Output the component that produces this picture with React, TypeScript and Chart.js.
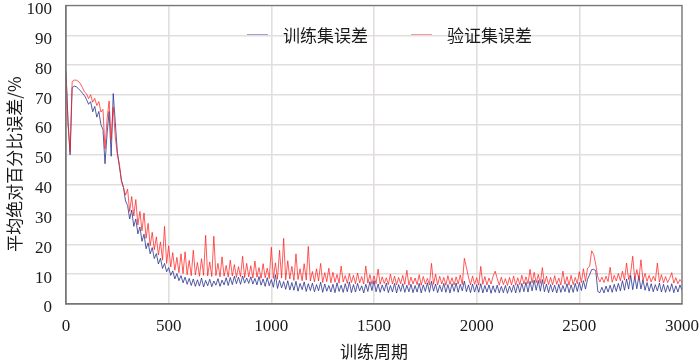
import React, { useEffect, useRef } from "react";
import { Chart, registerables } from "chart.js";

Chart.register(...registerables);

// Epochs are sampled every 10 training cycles (0 … 3000)
const EPOCH_STEP = 10;
const X_MAX = 3000;
const Y_MAX = 100;

const legendLabels = ["训练集误差", "验证集误差"];
const xTitle = "训练周期";
const yTitle = "平均绝对百分比误差/%";

// Training-set error (blue)
const trainError = [
  78, 61, 50, 72.5, 73, 72.8, 72.2, 71.5, 70.6, 69.8,
  68.5, 66.9, 67.8, 64.4, 66.2, 62.6, 64.5, 60.1, 58.5, 47,
  57, 64.5, 49.5, 70.5, 61, 51, 46, 41.5, 39, 34.5,
  33, 28.5, 31.5, 26, 28.5, 23.5, 25.8, 21, 23.4, 18.5,
  20.5, 16.8, 18.9, 15.2, 16.9, 13.4, 15.3, 11.9, 13.6, 10.8,
  12.2, 9.6, 11.1, 8.4, 10.2, 7.8, 9.5, 7.1, 9.0, 6.6,
  8.6, 6.2, 8.4, 5.9, 8.1, 6.0, 8.7, 5.7, 7.9, 6.1,
  8.3, 5.8, 7.7, 6.3, 8.5, 5.9, 8.0, 6.4, 8.8, 6.2,
  8.9, 6.5, 9.3, 6.8, 9.0, 6.6, 9.4, 7.0, 8.7, 6.9,
  9.1, 6.7, 8.6, 6.4, 9.2, 6.3, 8.4, 5.9, 8.8, 6.1,
  8.2, 5.6, 9.8, 5.2, 7.9, 5.4, 7.5, 4.9, 7.8, 4.7,
  7.2, 4.6, 7.6, 4.3, 6.9, 4.8, 7.4, 4.2, 6.8, 4.5,
  7.0, 4.1, 6.5, 4.4, 7.3, 3.9, 6.7, 4.3, 6.2, 4.0,
  6.6, 3.8, 7.1, 4.2, 6.3, 3.9, 6.8, 4.1, 7.4, 3.8,
  6.5, 4.0, 6.9, 4.4, 6.1, 3.7, 6.6, 4.2, 7.5, 4.5,
  7.8, 4.1, 6.7, 3.9, 6.4, 4.3, 7.0, 3.8, 6.2, 4.0,
  6.9, 3.7, 6.5, 4.2, 6.8, 3.9, 6.3, 4.1, 6.6, 3.8,
  6.2, 4.0, 6.9, 3.7, 6.4, 4.2, 7.1, 3.9, 7.6, 4.3,
  6.7, 3.8, 6.3, 4.1, 6.9, 3.9, 6.5, 3.7, 6.8, 4.2,
  7.0, 3.9, 6.6, 4.4, 7.7, 4.1, 6.4, 3.8, 6.7, 4.0,
  6.5, 3.9, 6.8, 3.7, 6.2, 4.0, 6.4, 3.6, 6.1, 3.9,
  6.3, 3.7, 5.9, 3.8, 6.2, 3.6, 6.0, 3.9, 6.4, 3.7,
  6.6, 3.9, 6.9, 4.1, 7.3, 4.0, 7.6, 4.4, 8.0, 4.6,
  7.9, 4.3, 8.2, 4.1, 6.7, 3.8, 6.5, 4.0, 6.3, 3.7,
  6.6, 3.9, 6.2, 4.1, 6.8, 3.8, 6.4, 3.9, 6.9, 4.2,
  7.2, 4.5, 7.8, 5.0, 8.3, 9.8, 11.5, 11.6, 11.2, 4.2,
  3.8, 5.6, 3.7, 6.0, 4.0, 6.3, 3.9, 6.6, 4.2, 6.9,
  4.4, 7.8, 4.6, 8.4, 5.0, 9.6, 4.8, 9.2, 5.1, 9.5,
  5.0, 8.1, 4.6, 7.2, 4.3, 6.8, 4.1, 6.5, 4.4, 7.0,
  4.0, 6.6, 3.9, 6.3, 4.2, 6.8, 3.8, 6.1, 4.0, 6.4,
  4.6,
];

// Validation-set error (red)
const valError = [
  77, 60, 51, 74.5, 75, 75, 74.6, 73.8, 72.5, 71,
  70.4, 68.8, 70.1, 67.6, 68.9, 66.5, 67.8, 64.3, 65.2, 52,
  62, 68, 55, 66, 56, 50, 47, 41, 39, 36.5,
  38.5, 31, 36, 29.5, 35, 26.5, 31, 24.5, 30.5, 22,
  27, 19.5, 24, 18.2, 22.5, 16.4, 20.8, 14.7, 26, 13.6,
  19.5, 12.4, 17.2, 11.3, 15.6, 10.5, 16.8, 10.2, 17.5, 9.8,
  14.6, 9.5, 18, 9.7, 13.9, 9.3, 15.2, 9.6, 23, 9.4,
  14.1, 9.2, 22.7, 9.5, 13.6, 9.1, 15.8, 9.3, 12.9, 9.0,
  14.7, 9.4, 13.2, 8.9, 12.5, 9.2, 16.0, 8.8, 13.6, 9.1,
  12.8, 8.7, 14.4, 9.0, 12.2, 8.6, 13.5, 8.8, 12.0, 8.5,
  19, 8.6, 13.8, 8.3, 18, 8.7, 22, 8.1, 14.5, 8.4,
  12.6, 7.9, 16.8, 8.2, 11.8, 7.8, 13.5, 8.0, 19.3, 7.7,
  10.9, 7.4, 11.8, 7.7, 13.6, 7.2, 10.5, 7.5, 12.0, 7.1,
  10.6, 7.3, 9.9, 7.0, 12.7, 7.4, 9.5, 6.9, 10.2, 7.2,
  9.6, 6.8, 10.4, 7.1, 9.2, 6.7, 12.7, 7.0, 9.8, 6.6,
  9.4, 6.8, 11.7, 6.6, 9.1, 6.9, 8.8, 6.5, 10.0, 6.7,
  9.3, 6.4, 8.9, 6.8, 9.6, 6.6, 11.3, 6.3, 9.0, 6.7,
  8.7, 6.5, 9.8, 6.3, 9.2, 6.7, 8.6, 6.4, 13.6, 6.6,
  10.0, 6.4, 9.3, 6.7, 8.9, 6.3, 9.5, 6.6, 8.8, 6.4,
  9.1, 6.7, 9.7, 6.5, 15.3, 12.3, 9.0, 6.4, 9.4, 6.6,
  8.8, 6.3, 12.6, 6.6, 9.2, 6.4, 8.7, 6.7, 9.3, 11.0,
  8.6, 6.3, 9.0, 6.5, 8.5, 6.2, 8.9, 6.4, 9.4, 6.3,
  8.8, 6.5, 9.6, 6.7, 9.1, 6.8, 11.6, 7.0, 10.6, 7.1,
  9.9, 6.9, 12.2, 6.7, 9.3, 6.5, 8.9, 6.4, 9.5, 6.6,
  8.7, 6.4, 11.0, 6.6, 9.2, 6.3, 9.6, 6.5, 8.9, 6.8,
  10.8, 7.2, 11.8, 7.6, 12.0, 12.6, 17.8, 16.6, 13.2, 9.0,
  7.4, 9.0, 7.2, 9.3, 7.5, 12.3, 7.3, 9.6, 7.7, 10.2,
  7.8, 11.0, 8.0, 13.7, 8.2, 10.5, 16, 8.3, 11.5, 8.1,
  14.8, 7.9, 10.2, 7.6, 9.6, 7.4, 9.3, 7.7, 13.7, 7.3,
  9.8, 7.1, 9.2, 7.2, 8.6, 10.5, 7.0, 8.8, 6.8, 8.2,
  7.3,
];

const TRAIN_COLOR = "rgba(38, 48, 140, 0.78)";
const VAL_COLOR = "rgba(255, 28, 28, 0.72)";
const TRAIN_LEGEND = "rgba(120, 135, 200, 0.75)";
const VAL_LEGEND = "rgba(245, 120, 120, 0.75)";

const NUM_FONT = '"Liberation Serif", Tinos, "Times New Roman", Times, "DejaVu Serif", serif';
const CJK_FONT = '"Noto Sans CJK SC", sans-serif';

const innerLegend = {
  id: "innerLegend",
  afterDraw(chart: any) {
    const { ctx, chartArea } = chart;
    ctx.save();
    ctx.font = `17px ${CJK_FONT}`;
    ctx.textBaseline = "middle";
    ctx.textAlign = "left";
    let x = chartArea.left + 181;
    const yText = chartArea.top + 30;
    const yLine = chartArea.top + 28;
    chart.data.datasets.forEach((ds: any) => {
      ctx.strokeStyle = ds.legendColor;
      ctx.lineWidth = 1;
      ctx.beginPath();
      ctx.moveTo(x, Math.round(yLine) + 0.5);
      ctx.lineTo(x + 21, Math.round(yLine) + 0.5);
      ctx.stroke();
      x += 36;
      ctx.fillStyle = "#1a1a1a";
      ctx.fillText(ds.label, x, yText);
      x += ctx.measureText(ds.label).width + 43;
    });
    ctx.restore();
  },
};

const frameAndTitle = {
  id: "frameAndTitle",
  afterDraw(chart: any) {
    const { ctx, chartArea } = chart;
    ctx.save();
    ctx.strokeStyle = "#777777";
    ctx.lineWidth = 1.3;
    ctx.strokeRect(
      chartArea.left,
      chartArea.top,
      chartArea.right - chartArea.left,
      chartArea.bottom - chartArea.top
    );
    ctx.translate(15, 164);
    ctx.rotate(-Math.PI / 2);
    ctx.font = `17px ${CJK_FONT}`;
    ctx.fillStyle = "#1a1a1a";
    ctx.textAlign = "center";
    ctx.textBaseline = "middle";
    ctx.fillText(yTitle, 0, 0);
    ctx.restore();
  },
};

export default function App() {
  const canvasRef = useRef<HTMLCanvasElement | null>(null);

  useEffect(() => {
    document.body.style.margin = "0";
    let chart: Chart | null = null;
    let cancelled = false;
    const toPoints = (vals: number[]) =>
      vals.map((v, i) => ({ x: i * EPOCH_STEP, y: v }));

    const build = () => {
      const canvas = canvasRef.current;
      if (!canvas || cancelled) return;
      chart = new Chart(canvas, {
        type: "line",
        data: {
          datasets: [
            {
              label: legendLabels[0],
              data: toPoints(trainError),
              borderColor: TRAIN_COLOR,
              borderWidth: 1,
              pointRadius: 0,
              tension: 0,
              order: 1,
              legendColor: TRAIN_LEGEND,
            } as any,
            {
              label: legendLabels[1],
              data: toPoints(valError),
              borderColor: VAL_COLOR,
              borderWidth: 1,
              pointRadius: 0,
              tension: 0,
              order: 0,
              legendColor: VAL_LEGEND,
            } as any,
          ],
        },
        options: {
          animation: false,
          responsive: true,
          maintainAspectRatio: false,
          layout: { padding: { top: 5.5, right: 18, bottom: 0, left: 0 } },
          plugins: {
            legend: { display: false },
            tooltip: { enabled: false },
            title: { display: false },
          },
          scales: {
            x: {
              type: "linear",
              min: 0,
              max: X_MAX,
              ticks: {
                stepSize: 500,
                padding: 12,
                color: "#1a1a1a",
                font: { family: NUM_FONT, size: 17 },
                maxRotation: 0,
                callback: (v: any) => String(v),
              },
              grid: { color: "#e2dede", lineWidth: 1.6, drawTicks: false },
              border: { color: "#777777", width: 1.3 },
              title: {
                display: true,
                text: xTitle,
                color: "#1a1a1a",
                font: { family: CJK_FONT, size: 17 },
                padding: { top: 0, bottom: 0 },
              },
              afterFit(scale: any) {
                scale.height = 58;
                scale.paddingLeft = 0;
                scale.paddingRight = 0;
              },
            },
            y: {
              min: 0,
              max: Y_MAX,
              ticks: {
                stepSize: 10,
                padding: 14,
                labelOffset: 4,
                color: "#1a1a1a",
                font: { family: NUM_FONT, size: 17 },
                callback: (v: any) => String(v),
              },
              grid: { color: "#e2dede", lineWidth: 1.6, drawTicks: false },
              border: { color: "#777777", width: 1.3 },
              afterFit(scale: any) {
                scale.width = 66;
                scale.paddingTop = 0;
                scale.paddingBottom = 0;
              },
            },
          },
        },
        plugins: [innerLegend, frameAndTitle],
      });
    };

    const fontsReady = (document as any).fonts
      ? Promise.all([
          (document as any).fonts.load('17px "Liberation Serif"', "0123456789"),
          (document as any).fonts.load('17px "Noto Sans CJK SC"', "训练集误差"),
        ]).catch(() => null)
      : Promise.resolve(null);
    fontsReady.then(build);

    return () => {
      cancelled = true;
      if (chart) chart.destroy();
    };
  }, []);

  return (
    <div style={{ width: 700, height: 362, position: "relative" }}>
      <canvas ref={canvasRef} />
    </div>
  );
}
